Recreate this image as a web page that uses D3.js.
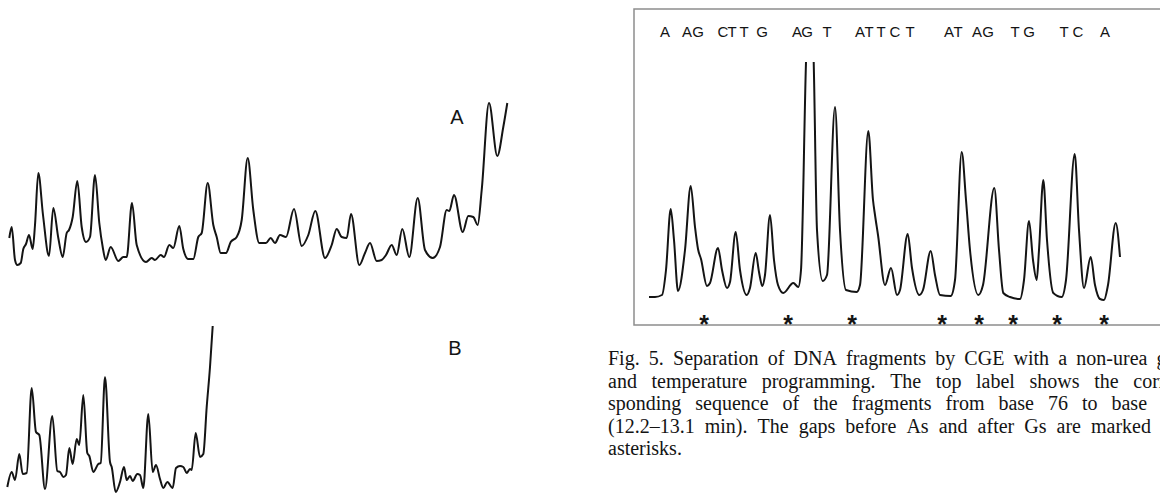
<!DOCTYPE html>
<html>
<head>
<meta charset="utf-8">
<script src="https://cdn.jsdelivr.net/npm/d3@7"></script>
<style>
  html, body { margin: 0; padding: 0; background: #fff; overflow: hidden; }
  svg { display: block; }
</style>
</head>
<body>
<svg id="fig" width="1160" height="493"></svg>
<script>
// electropherogram A: [scan, signal]
const traceA = [[0.3,27],[2.7,38],[6,5],[8.3,0],[11.7,2],[14.3,16],[17,21],[20,30],[23.7,16],[26,40],[29.3,92],[34,50],[40,9],[44.3,57],[49.3,27],[53.7,8],[57.7,32],[60,35],[63.7,48],[68.3,84],[72.7,38],[77,23],[81,28],[86,90],[90.3,42],[93.7,18],[96.7,5],[101.7,18],[109.3,4],[114.3,8],[117.7,8],[123,62],[127.7,20],[137,3],[142.7,7],[146,5],[151.7,10],[155,8],[160.3,20],[164.3,17],[170.3,39],[174.3,16],[179.3,6],[184.3,6],[189.3,28],[192.7,32],[198.7,82],[204.3,40],[207.7,28],[211.7,12],[217,12],[221.7,23],[227.7,28],[232.7,45],[238.7,107],[244.3,55],[250.3,22],[257,22],[261.7,27],[266,22],[271,30],[277,28],[285,56],[292.7,19],[299.3,30],[306.3,54],[316,7],[322.7,20],[327.7,36],[332.7,28],[337.7,27],[342,51],[350.3,0],[356,12],[361,22],[367.7,4],[372.7,5],[377,10],[382.7,20],[387.7,10],[393.3,36],[400.3,8],[408.7,67],[416,15],[423.7,7],[431,18],[437.7,55],[440.3,54],[445,70],[453.7,33],[459.3,49],[464.3,48],[468.7,40],[472.7,75],[480,162],[488.3,109],[494.3,138],[498.3,162]];

// electropherogram B: [scan, signal]
const traceB = [[0.3,5],[4.7,20],[8,12],[12.3,38],[15.7,18],[19.7,19],[24.7,104],[29,60],[32.3,57],[38,3],[45.3,76],[50.3,21],[53,20],[56.3,15],[59,17],[62.3,44],[65.7,28],[69.7,53],[72.3,47],[76.3,97],[80.3,39],[82.3,36],[86.3,20],[91.3,28],[93.7,29],[98,115],[103,30],[104.7,25],[108.7,0],[113,10],[117,25],[119.7,12],[123,16],[125.7,11],[130.3,18],[133,17],[136.3,4],[141.3,78],[145.7,20],[149,27],[153,13],[156.3,4],[160.3,10],[165.7,4],[169,24],[173,26],[176.3,25],[179.7,19],[183,23],[184.7,22],[188.7,59],[193,35],[196.3,38],[199.7,85],[203,125],[205.7,166]];

// Fig. 5 trace, bases 76-99: [scan, signal]
const traceSeq = [[0,0],[6,0],[13,2],[17,27],[21.7,88],[25,57],[29,6],[36,47],[41.7,111],[46,70],[49,48],[52,38],[58,11],[61,14],[69,49],[73,27],[78,9],[81,15],[86.7,65],[91,27],[97.7,2],[101,9],[106.7,44],[110,25],[113.3,11],[116,22],[121,82],[125,37],[129,12],[134.3,4],[144.3,14],[149.3,10],[152,27],[157,235],[160.8,330],[164.7,235],[168,67],[173.7,16],[178,22],[186,190],[191,67],[197,7],[207.7,5],[211,12],[219.3,166],[224,97],[226,82],[229,62],[236,12],[242,29],[248,2],[251,7],[258.7,63],[263,29],[270.3,2],[274,7],[281.7,46],[286,22],[291,2],[301.7,1],[306,17],[312.7,145],[317,97],[321,47],[329.3,2],[334,12],[345.3,109],[350,47],[354.3,4],[361,0],[371,-2],[375,17],[380,76],[384,37],[387.7,17],[390,47],[394.3,117],[398,57],[404.3,4],[412.7,0],[417,17],[425.7,143],[430,67],[435,9],[441.7,40],[446,12],[451,-2],[455,-3],[459,12],[466.7,74],[471,40]];

const seqLetters = ["A","A","G","C","T","T","G","A","G","T","A","T","T","C","T","A","T","A","G","T","G","T","C","A"];
const seqScan = [16,38,49,74,83,95,113,148,158,178,211,220,232,246,261,300,309,328,339,366,380,415,429,456];
const gapScan = [55,139,203,293,330,364,408,455];

const captionLines = [
  "Fig. 5. Separation of DNA fragments by CGE with a non-urea gel",
  "and temperature programming. The top label shows the corre-",
  "sponding sequence of the fragments from base 76 to base 99",
  "(12.2\u201313.1 min). The gaps before As and after Gs are marked by",
  "asterisks."
];

const svg = d3.select("#fig");
const ink = "#141414";

function drawTrace(data, xs, ys, clip) {
  const line = d3.line()
    .x(d => xs(d[0]))
    .y(d => ys(d[1]))
    .curve(d3.curveMonotoneX);
  const p = svg.append("path")
    .datum(data)
    .attr("d", line)
    .attr("fill", "none")
    .attr("stroke", ink)
    .attr("stroke-width", 2)
    .attr("stroke-linejoin", "round");
  if (clip) p.attr("clip-path", clip);
}

// left panel, trace A
const xA = d3.scaleLinear().domain([0, 500]).range([9, 509]);
const yA = d3.scaleLinear().domain([0, 162]).range([265, 103]);
drawTrace(traceA, xA, yA);

// left panel, trace B
const xB = d3.scaleLinear().domain([0, 206]).range([7, 213]);
const yB = d3.scaleLinear().domain([0, 166]).range([492, 326]);
drawTrace(traceB, xB, yB);

svg.append("text").attr("x", 457).attr("y", 124).attr("text-anchor", "middle")
  .attr("font-family", "Liberation Sans, Arial, sans-serif").attr("font-size", 20)
  .attr("fill", ink).text("A");
svg.append("text").attr("x", 455).attr("y", 355).attr("text-anchor", "middle")
  .attr("font-family", "Liberation Sans, Arial, sans-serif").attr("font-size", 20)
  .attr("fill", ink).text("B");

// right panel
svg.append("rect")
  .attr("x", 634).attr("y", 9).attr("width", 620).attr("height", 316)
  .attr("fill", "none").attr("stroke", "#8d8d8d").attr("stroke-width", 1.5);

const xR = d3.scaleLinear().domain([0, 471]).range([649, 1120]);
const yR = d3.scaleLinear().domain([0, 235]).range([297, 62]);

svg.append("clipPath").attr("id", "offscale")
  .append("rect").attr("x", 634).attr("y", yR(235)).attr("width", 600).attr("height", 325 - yR(235));
drawTrace(traceSeq, xR, yR, "url(#offscale)");

svg.append("g")
  .selectAll("text")
  .data(seqLetters)
  .join("text")
  .attr("x", (d, i) => xR(seqScan[i]))
  .attr("y", 37)
  .attr("text-anchor", "middle")
  .attr("font-family", "Liberation Sans, Arial, sans-serif")
  .attr("font-size", 15)
  .attr("fill", ink)
  .text(d => d);

svg.append("g")
  .selectAll("text")
  .data(gapScan)
  .join("text")
  .attr("x", d => xR(d))
  .attr("y", 333)
  .attr("text-anchor", "middle")
  .attr("font-family", "Liberation Sans, Arial, sans-serif")
  .attr("font-weight", "bold")
  .attr("font-size", 25)
  .attr("fill", ink)
  .text("*");

// caption, justified
const capLeft = 608, capRight = 1181, capTop = 365, capLead = 22.5;
const capFont = "Liberation Serif, 'Times New Roman', serif";
const probe = svg.append("text").attr("font-family", capFont).attr("font-size", 20);
captionLines.forEach((ln, li) => {
  const words = ln.split(" ");
  const widths = words.map(w => { probe.text(w); return probe.node().getComputedTextLength(); });
  probe.text(" ");
  const space = probe.node().getComputedTextLength() || 5;
  const last = li === captionLines.length - 1;
  const total = d3.sum(widths);
  const gap = last ? space : (capRight - capLeft - total) / (words.length - 1);
  let x = capLeft;
  const t = svg.append("text")
    .attr("y", capTop + li * capLead)
    .attr("font-family", capFont)
    .attr("font-size", 20)
    .attr("fill", ink);
  words.forEach((w, i) => {
    t.append("tspan").attr("x", x).text(w);
    x += widths[i] + gap;
  });
});
probe.remove();
</script>
</body>
</html>
